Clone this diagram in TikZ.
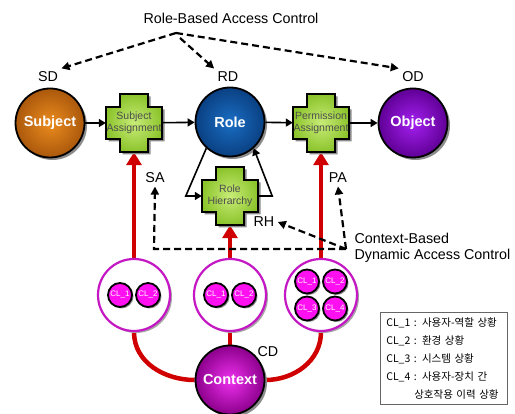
\documentclass[tikz,border=0pt]{standalone}
\usepackage{fontspec}
\setmainfont{Liberation Sans}
\newfontfamily\krfont{Noto Sans CJK KR}
\usetikzlibrary{arrows.meta,shadows,calc,backgrounds}

\definecolor{ctxred}{HTML}{D00000}
\definecolor{grpmag}{HTML}{C418C4}
\definecolor{clmag}{HTML}{FF10F0}

\tikzset{
  mainball/.style={circle, draw=black, line width=1.8pt, minimum size=69pt, inner sep=0pt,
    text=white, font=\fontsize{14.5}{16}\selectfont\bfseries, shading=radial,
    drop shadow={shadow xshift=2.5pt, shadow yshift=-2.5pt, fill=black!45, opacity=1}},
  assign/.style={inner sep=0pt, minimum width=56pt, minimum height=58pt, align=center,
    text=black!70, font=\fontsize{10.5}{12}\selectfont},
  plusbody/.style={draw=black, line width=1.6pt, shading=radial, inner color={rgb,255:red,200;green,236;blue,120},
    outer color={rgb,255:red,140;green,196;blue,44}},
  plusshadow/.style={fill=black!45},
  group/.style={circle, draw=grpmag, line width=2.2pt, fill=white, minimum size=72pt, inner sep=0pt,
    drop shadow={shadow xshift=2pt, shadow yshift=-2pt, fill=black!35, opacity=1}},
  cl/.style={circle, draw=black, line width=1.8pt, fill=clmag, minimum size=24pt, inner sep=0pt,
    text=white, font=\fontsize{8}{9}\selectfont,
    drop shadow={shadow xshift=1.5pt, shadow yshift=-1.5pt, fill=black!45, opacity=1}},
  flow/.style={-{Triangle[length=7pt,width=8pt]}, line width=1.6pt},
  ctx/.style={-{Triangle[length=13pt,width=15pt]}, line width=4.5pt, draw=ctxred},
  ctxline/.style={line width=4.5pt, draw=ctxred},
  policy/.style={-{Triangle[length=8pt,width=8pt]}, line width=2.2pt, dash pattern=on 7pt off 4pt},
  lbl/.style={font=\fontsize{14.3}{16}\selectfont},
  legendbox/.style={draw=black!60, line width=0.6pt, fill=white, minimum width=127pt, minimum height=92pt,
    inner xsep=6pt, text width=115pt, align=left, font=\krfont\fontsize{10.5}{18}\selectfont}
}

% plus-shaped assignment box: name, position, text
\newcommand{\assignnode}[3]{%
  \fill[plusshadow, shift={(#2)}, xshift=2.5pt, yshift=-2.5pt] (-14,29) -- (14,29) -- (14,16) -- (28,16) -- (28,-16)
    -- (14,-16) -- (14,-29) -- (-14,-29) -- (-14,-16) -- (-28,-16) -- (-28,16) -- (-14,16) -- cycle;
  \shadedraw[plusbody, shift={(#2)}] (-14,29) -- (14,29) -- (14,16) -- (28,16) -- (28,-16)
    -- (14,-16) -- (14,-29) -- (-14,-29) -- (-14,-16) -- (-28,-16) -- (-28,16) -- (-14,16) -- cycle;
  \node[assign] (#1) at (#2) {#3};}

\begin{document}
\begin{tikzpicture}[x=1pt,y=1pt]
\useasboundingbox (0,0) rectangle (515,414);

% role-based access control
\node[lbl] (rbac) at (231,396) {Role-Based Access Control};
\coordinate (rbacfork) at (176,381);
\node[lbl] (SDlbl) at (48,337) {SD};
\node[lbl] (RDlbl) at (228,337) {RD};
\node[lbl] (ODlbl) at (413,337) {OD};
\draw[policy] (rbacfork) -- (SDlbl.north east);
\draw[policy] ($(rbacfork)+(4,-5)$) -- (RDlbl.north west);
\draw[policy] (rbacfork) -- (ODlbl.north west);

% main row
\node[mainball, inner color={rgb,255:red,236;green,140;blue,30}, outer color={rgb,255:red,170;green,88;blue,12}] (Subject) at (50,291) {Subject};
\assignnode{SAbox}{134,291}{Subject\\Assignment}
\node[mainball, inner color={rgb,255:red,26;green,110;blue,196}, outer color={rgb,255:red,10;green,64;blue,130}] (Role) at (230,292) {Role};
\assignnode{PAbox}{321,291}{Permission\\Assignment}
\node[mainball, inner color={rgb,255:red,164;green,32;blue,240}, outer color={rgb,255:red,96;green,0;blue,150}] (Object) at (413,291) {Object};
\assignnode{RHbox}{230,218}{Role\\Hierarchy}

\draw[flow] (Subject) -- (SAbox);
\draw[flow] (SAbox) -- (Role);
\draw[flow] (Role) -- (PAbox);
\draw[flow] (PAbox) -- (Object);
\draw[flow] (Role.228) -- ($(RHbox.west)+(-16,0)$) -- (RHbox.west);
\draw[flow] (RHbox.east) -- ++(14,0) -- (Role.-48);

% context-based dynamic access control
\node[lbl] (SAlbl) at (155,236) {SA};
\node[lbl] (PAlbl) at (338,236) {PA};
\node[lbl] (RHlbl) at (264,192) {RH};
\node[lbl, anchor=west, align=left] (cbdac) at (351,166) {Context-Based\\Dynamic Access Control};
\coordinate (cbleft) at (154,165);
\coordinate (cbjoin) at (346,165);
\draw[policy] (cbjoin) -- (cbleft) -- (SAlbl.south);
\draw[policy] (cbjoin) -- (PAlbl.south);
\draw[policy] (cbjoin) -- (RHlbl.east);

% context groups
\node[group] (grpA) at (134,119) {};
\node[group] (grpB) at (230,119) {};
\node[group] (grpC) at (321,119) {};
\node[cl] (a1) at ($(grpA)+(-14,0)$) {CL\_1};
\node[cl] (a2) at ($(grpA)+(14,0)$) {CL\_2};
\node[cl] (b1) at ($(grpB)+(-14,0)$) {CL\_1};
\node[cl] (b2) at ($(grpB)+(14,0)$) {CL\_2};
\node[cl] (c1) at ($(grpC)+(-14,13.5)$) {CL\_1};
\node[cl] (c2) at ($(grpC)+(14,13.5)$) {CL\_2};
\node[cl] (c3) at ($(grpC)+(-14,-13.5)$) {CL\_3};
\node[cl] (c4) at ($(grpC)+(14,-13.5)$) {CL\_4};

\node[mainball, inner color={rgb,255:red,238;green,48;blue,238}, outer color={rgb,255:red,140;green,0;blue,140}] (Context) at (230,34) {Context};
\node[lbl] (CDlbl) at (268,62) {CD};

\begin{scope}[on background layer]
\draw[ctx] (grpA) -- (SAbox);
\draw[ctx] (grpB) -- (RHbox);
\draw[ctx] (grpC) -- (PAbox);
\draw[ctxline] (grpA.south) to[out=-90,in=180] (Context.west);
\draw[ctxline] (grpB.south) -- (Context.north);
\draw[ctxline] (grpC.south) to[out=-90,in=0] (Context.east);
\end{scope}

% legend
\node[legendbox, anchor=north west] (legend) at (380,102) {CL\_1 : 사용자-역할 상황\\CL\_2 : 환경 상황\\CL\_3 : 시스템 상황\\CL\_4 : 사용자-장치 간\\\hspace*{28pt}상호작용 이력 상황};
\end{tikzpicture}
\end{document}
